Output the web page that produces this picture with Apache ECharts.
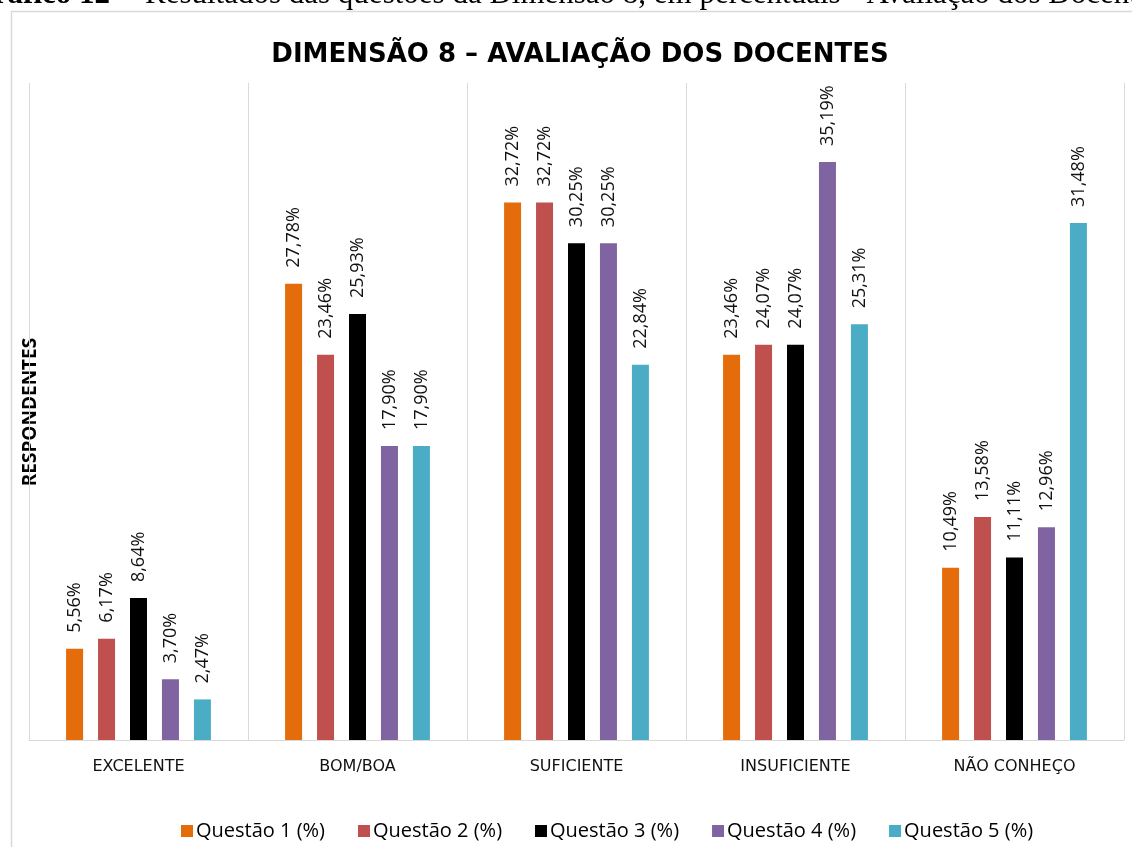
<!DOCTYPE html>
<html>
<head>
<meta charset="utf-8">
<script src="https://cdn.jsdelivr.net/npm/echarts@6/dist/echarts.min.js"></script>
<style>
  html, body { margin: 0; padding: 0; background: #fff; }
  #chart { width: 1132px; height: 847px; }
</style>
</head>
<body>
<div id="chart"></div>
<script>
// categorias e valores (%)
let categorias = ['EXCELENTE', 'BOM/BOA', 'SUFICIENTE', 'INSUFICIENTE', 'NÃO CONHEÇO'];
let questao1 = [5.56, 27.78, 32.72, 23.46, 10.49];
let questao2 = [6.17, 23.46, 32.72, 24.07, 13.58];
let questao3 = [8.64, 25.93, 30.25, 24.07, 11.11];
let questao4 = [3.70, 17.90, 30.25, 35.19, 12.96];
let questao5 = [2.47, 17.90, 22.84, 25.31, 31.48];
let nomes = ['Questão 1 (%)', 'Questão 2 (%)', 'Questão 3 (%)', 'Questão 4 (%)', 'Questão 5 (%)'];
let cores = ['#E46C0A', '#C0504D', '#000000', '#8064A2', '#4BACC6'];

var myChart = echarts.init(document.getElementById('chart'));

function fmt(v) {
    return v.toFixed(2).replace('.', ',') + '%';
}

var dados = [questao1, questao2, questao3, questao4, questao5];
var series = dados.map(function (d, i) {
    return {
        type: 'bar',
        name: nomes[i],
        data: d,
        barWidth: 17,
        barGap: '88%',
        itemStyle: { color: cores[i] },
        label: {
            show: true,
            position: 'top',
            rotate: 90,
            align: 'left',
            verticalAlign: 'middle',
            distance: 16,
            fontFamily: 'Open Sans',
            fontSize: 18,
            color: '#111',
            formatter: function (p) { return fmt(p.value); }
        }
    };
});

var option = {
    animation: false,
    color: cores,
    title: {
        text: 'DIMENSÃO 8 – AVALIAÇÃO DOS DOCENTES',
        left: 575,
        textAlign: 'center',
        top: 37,
        textStyle: {
            fontFamily: 'DejaVu Sans',
            fontWeight: 'bold',
            fontSize: 26,
            color: '#000'
        }
    },
    legend: {
        left: 176,
        top: 816,
        itemWidth: 12,
        itemHeight: 12,
        itemGap: 33,
        icon: 'rect',
        textStyle: { fontFamily: 'Open Sans', fontSize: 20, color: '#000', padding: [0, 0, 0, -2] },
        data: nomes
    },
    grid: {
        left: 29,
        right: 8,
        top: 83,
        bottom: 107
    },
    xAxis: {
        type: 'category',
        data: categorias,
        axisLine: { lineStyle: { color: '#d9d9d9', width: 1 } },
        axisTick: { show: false },
        splitLine: { show: true, lineStyle: { color: '#d9d9d9' } },
        axisLabel: {
            margin: 19,
            fontFamily: 'DejaVu Sans',
            fontSize: 16,
            color: '#111'
        }
    },
    yAxis: {
        type: 'value',
        min: 0,
        max: 40,
        show: false,
        splitLine: { show: false }
    },
    graphic: [
        // moldura do gráfico (cortada à direita e em baixo)
        {
            type: 'rect',
            shape: { x: 11.5, y: 11.5, width: 1300, height: 1000 },
            style: { fill: null, stroke: '#d9d9d9', lineWidth: 1.5 },
            silent: true
        },
        {
            type: 'text',
            x: 31,
            y: 412,
            rotation: Math.PI / 2,
            style: {
                text: 'RESPONDENTES',
                align: 'center',
                verticalAlign: 'middle',
                fontFamily: 'Open Sans',
                fontWeight: 'bold',
                fontSize: 19,
                fill: '#000'
            }
        },
        // legenda do gráfico no documento (cortada no topo)
        {
            type: 'text',
            x: 110,
            y: -5,
            style: {
                text: 'Gráfico 12',
                align: 'right',
                verticalAlign: 'middle',
                fontFamily: 'Liberation Serif',
                fontWeight: 'bold',
                fontSize: 31,
                fill: '#000'
            }
        },
        {
            type: 'text',
            x: 116,
            y: -5,
            style: {
                text: '–',
                align: 'left',
                verticalAlign: 'middle',
                fontFamily: 'Liberation Serif',
                fontWeight: 'bold',
                fontSize: 31,
                fill: '#000'
            }
        },
        {
            type: 'text',
            x: 145,
            y: -5,
            style: {
                text: 'Resultados das questões da Dimensão 8, em percentuais - Avaliação dos Docentes',
                align: 'left',
                verticalAlign: 'middle',
                fontFamily: 'Liberation Serif',
                fontSize: 31,
                fill: '#000'
            }
        }
    ],
    series: series
};

myChart.setOption(option);
</script>
</body>
</html>
